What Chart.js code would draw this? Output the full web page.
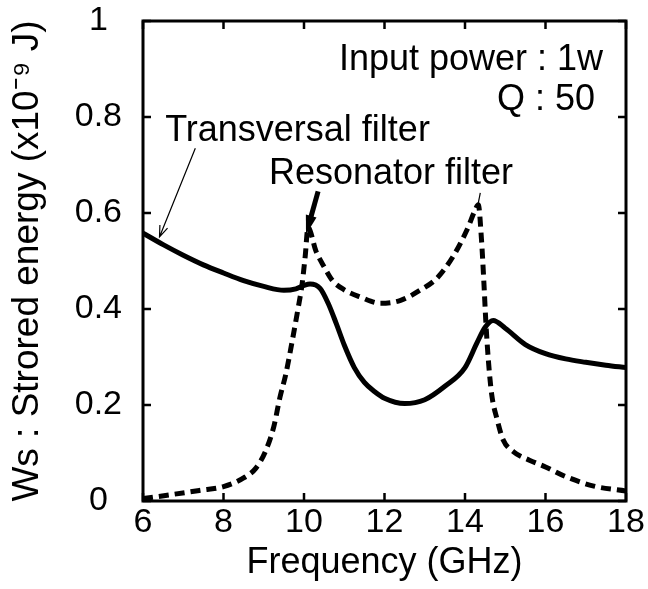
<!DOCTYPE html>
<html>
<head>
<meta charset="utf-8">
<script src="https://cdn.jsdelivr.net/npm/chart.js@4/dist/chart.umd.min.js"></script>
<style>
  html, body { margin: 0; padding: 0; background: #fff; }
  canvas { display: block; }
</style>
</head>
<body>
<canvas id="grafico" width="648" height="589"></canvas>
<script>
const FONTE = "'Liberation Sans', Arial, Helvetica, sans-serif";

/* =========================
   DADOS
========================= */
const transFreq = [6, 6.5, 7, 7.5, 8, 8.5, 9, 9.5, 9.8, 10, 10.15, 10.4, 10.6, 10.8, 11, 11.25, 11.5, 11.75, 12, 12.5, 13, 13.5, 14, 14.3, 14.5, 14.7, 15, 15.5, 16, 16.5, 17, 17.5, 18];
const transEnergy = [0.558, 0.534, 0.512, 0.492, 0.475, 0.459, 0.447, 0.439, 0.442, 0.449, 0.452, 0.443, 0.412, 0.37, 0.325, 0.278, 0.247, 0.228, 0.214, 0.203, 0.211, 0.239, 0.278, 0.33, 0.362, 0.376, 0.36, 0.326, 0.307, 0.296, 0.289, 0.283, 0.278];

const resFreq = [6, 6.6, 7.4, 8, 8.5, 8.8, 9.05, 9.25, 9.4, 9.55, 9.7, 9.85, 9.95, 10.03, 10.1, 10.3, 10.5, 10.7, 11, 11.4, 11.9, 12.4, 12.9, 13.3, 13.7, 14.05, 14.25, 14.33, 14.41, 14.47, 14.52, 14.58, 14.66, 14.8, 14.95, 15.2, 15.6, 16, 16.5, 17.2, 18];
const resEnergy = [0.005, 0.012, 0.022, 0.03, 0.048, 0.068, 0.105, 0.155, 0.215, 0.265, 0.33, 0.4, 0.45, 0.51, 0.57, 0.52, 0.488, 0.46, 0.44, 0.425, 0.412, 0.418, 0.44, 0.464, 0.509, 0.565, 0.606, 0.617, 0.544, 0.454, 0.37, 0.294, 0.224, 0.169, 0.127, 0.103, 0.085, 0.071, 0.051, 0.031, 0.021];

const xTicks = ["6", "8", "10", "12", "14", "16", "18"];
const yTicks = ["0", "0.2", "0.4", "0.6", "0.8", "1"];

const xTitulo = "Frequency (GHz)";
const yTitulo = "Ws : Strored energy (x10\u207B\u2079 J)";

// textos e setas em coordenadas dos dados
const textos = [
  { t: "Input power : 1w", x: 17.43, y: 0.898, align: "right" },
  { t: "Q : 50", x: 17.23, y: 0.814, align: "right" },
  { t: "Transversal filter", x: 6.55, y: 0.749, align: "left" },
  { t: "Resonator filter", x: 9.13, y: 0.66, align: "left" }
];

function juntar(xs, ys) {
  return xs.map((x, i) => ({ x: x, y: ys[i] }));
}

/* =========================
   MOLDURA, TICKS E NOTAS
========================= */
const moldura = {
  id: "moldura",
  afterDatasetsDraw(chart) {
    const { ctx, chartArea: a, scales: { x, y } } = chart;
    const T = 8;
    ctx.save();
    ctx.strokeStyle = "#000";
    ctx.lineWidth = 3;
    ctx.strokeRect(a.left, a.top, a.right - a.left, a.bottom - a.top);

    ctx.lineWidth = 2.5;
    ctx.beginPath();
    x.ticks.forEach(t => {
      const px = x.getPixelForValue(t.value);
      ctx.moveTo(px, a.bottom); ctx.lineTo(px, a.bottom - T);
      ctx.moveTo(px, a.top); ctx.lineTo(px, a.top + T);
    });
    y.ticks.forEach(t => {
      const py = y.getPixelForValue(t.value);
      ctx.moveTo(a.left, py); ctx.lineTo(a.left + T, py);
      ctx.moveTo(a.right, py); ctx.lineTo(a.right - T, py);
    });
    ctx.stroke();

    // textos
    ctx.fillStyle = "#000";
    ctx.font = "36px " + FONTE;
    ctx.textBaseline = "alphabetic";
    textos.forEach(n => {
      ctx.textAlign = n.align;
      ctx.fillText(n.t, x.getPixelForValue(n.x), y.getPixelForValue(n.y));
    });

    // seta fina (Transversal)
    const p = (fx, fy) => [x.getPixelForValue(fx), y.getPixelForValue(fy)];
    let [x0, y0] = p(7.3, 0.735);
    let [x1, y1] = p(6.41, 0.55);
    ctx.lineWidth = 1.2;
    ctx.beginPath();
    ctx.moveTo(x0, y0); ctx.lineTo(x1, y1);
    let ang = Math.atan2(y1 - y0, x1 - x0);
    ctx.moveTo(x1 - 12 * Math.cos(ang - 0.35), y1 - 12 * Math.sin(ang - 0.35));
    ctx.lineTo(x1, y1);
    ctx.lineTo(x1 - 12 * Math.cos(ang + 0.35), y1 - 12 * Math.sin(ang + 0.35));
    ctx.stroke();

    // traço fino sobre o 2o pico
    [x0, y0] = p(14.38, 0.642);
    [x1, y1] = p(14.31, 0.612);
    ctx.beginPath();
    ctx.moveTo(x0, y0); ctx.lineTo(x1, y1);
    ctx.stroke();

    // seta grossa (Resonator)
    [x0, y0] = p(10.35, 0.645);
    [x1, y1] = p(10.05, 0.555);
    ang = Math.atan2(y1 - y0, x1 - x0);
    const bx = x1 - 18 * Math.cos(ang), by = y1 - 18 * Math.sin(ang);
    ctx.lineWidth = 5;
    ctx.beginPath();
    ctx.moveTo(x0, y0); ctx.lineTo(bx, by);
    ctx.stroke();
    ctx.beginPath();
    ctx.moveTo(x1, y1);
    ctx.lineTo(x1 - 20 * Math.cos(ang - 0.28), y1 - 20 * Math.sin(ang - 0.28));
    ctx.lineTo(x1 - 20 * Math.cos(ang + 0.28), y1 - 20 * Math.sin(ang + 0.28));
    ctx.closePath();
    ctx.fill();

    ctx.restore();
  }
};

/* =========================
   GRAFICO
========================= */
new Chart(document.getElementById("grafico"), {
  type: "scatter",
  data: {
    datasets: [
      {
        label: "Transversal filter",
        data: juntar(transFreq, transEnergy),
        showLine: true,
        borderColor: "#000",
        borderWidth: 5,
        pointRadius: 0,
        cubicInterpolationMode: "monotone"
      },
      {
        label: "Resonator filter",
        data: juntar(resFreq, resEnergy),
        showLine: true,
        borderColor: "#000",
        borderWidth: 5,
        borderDash: [10, 6],
        borderCapStyle: "butt",
        pointRadius: 0,
        cubicInterpolationMode: "monotone"
      }
    ]
  },
  options: {
    responsive: false,
    animation: false,
    layout: { padding: { left: 0, right: 22, top: 21, bottom: 0 } },
    plugins: { legend: { display: false }, tooltip: { enabled: false } },
    scales: {
      x: {
        type: "linear",
        min: 6, max: 18,
        grid: { display: false },
        border: { display: false },
        ticks: {
          stepSize: 2,
          color: "#000",
          padding: -7,
          font: { family: FONTE, size: 34 },
          callback: (v, i) => xTicks[i]
        },
        title: {
          display: true,
          text: xTitulo,
          color: "#000",
          font: { family: FONTE, size: 36, lineHeight: 1 },
          padding: { top: 0, bottom: 8 }
        },
        afterFit(s) {
          s.height = 88;
          s.paddingLeft = 0;
          s.paddingRight = 0;
        }
      },
      y: {
        min: 0, max: 1,
        grid: { display: false },
        border: { display: false },
        ticks: {
          stepSize: 0.2,
          color: "#000",
          padding: 13,
          crossAlign: "center",
          font: { family: FONTE, size: 34 },
          callback: (v, i) => yTicks[i]
        },
        title: {
          display: true,
          text: yTitulo,
          color: "#000",
          font: { family: FONTE, size: 37, lineHeight: 1 },
          padding: { top: 9, bottom: 0 }
        },
        afterFit(s) {
          s.width = 143;
          s.paddingTop = 0;
          s.paddingBottom = 0;
        }
      }
    }
  },
  plugins: [moldura]
});
</script>
</body>
</html>
